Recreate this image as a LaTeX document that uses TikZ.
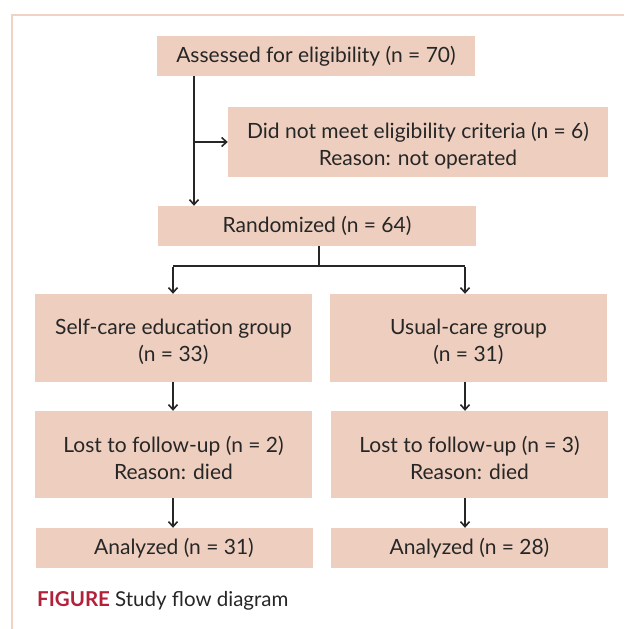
\documentclass[tikz,border=0pt]{standalone}
\usepackage{fontspec}
\setmainfont{Lato}
\usetikzlibrary{arrows.meta}
\definecolor{boxfill}{HTML}{EECFBF}
\definecolor{frameline}{HTML}{F0D3C6}
\definecolor{ink}{HTML}{262626}
\definecolor{figred}{HTML}{B3203A}
\tikzset{
  fbox/.style={fill=boxfill, draw=none, inner sep=0pt, align=center, text=ink,
    font=\fontsize{21}{27}\selectfont},
  boxtext/.style={inner sep=0pt, align=center, text=ink,
    font=\fontsize{21}{27}\selectfont, yshift=-3.5pt},
  conn/.style={draw=ink, line width=1.8pt},
  arr/.style={conn, -{Straight Barb[length=5pt,width=9pt,line width=1.6pt]}},
}
\begin{document}
\begin{tikzpicture}[x=1pt,y=-1pt]
\useasboundingbox (0,0) rectangle (624,629);
% frame
\draw[frameline, line width=2.5pt] (12,629) -- (12,15) -- (624,15);
% boxes
\node[fbox, minimum width=318, minimum height=40] (assess) at (316,56) {Assessed for eligibility (n = 70)};
\node[fbox, minimum width=380, minimum height=70,
  label={[boxtext]center:{Did not meet eligibility criteria (n = 6)\\Reason: not operated}}] (excl) at (418,142) {};
\node[fbox, minimum width=318, minimum height=40] (rand) at (317,226) {Randomized (n = 64)};
\node[fbox, minimum width=277, minimum height=88,
  label={[boxtext]center:{Self-care education group\\(n = 33)}}] (self) at (173.5,338) {};
\node[fbox, minimum width=277, minimum height=88,
  label={[boxtext]center:{Usual-care group\\(n = 31)}}] (usual) at (468.5,338) {};
\node[fbox, minimum width=277, minimum height=87,
  label={[boxtext]center:{Lost to follow-up (n = 2)\\Reason: died}}] (lost1) at (173.5,454.5) {};
\node[fbox, minimum width=277, minimum height=87,
  label={[boxtext]center:{Lost to follow-up (n = 3)\\Reason: died}}] (lost2) at (469.5,454.5) {};
\node[fbox, minimum width=277, minimum height=40] (an1) at (174,548) {Analyzed (n = 31)};
\node[fbox, minimum width=277, minimum height=40] (an2) at (469.5,548) {Analyzed (n = 28)};
% caption
\node[anchor=base west, inner sep=0pt, text=ink, font=\fontsize{20.5}{24}\selectfont] (cap) at (37,606)
  {\textcolor{figred}{\bfseries FIGURE} Study flow diagram};
% connectors
\coordinate (a1) at (194,76);
\coordinate (a2) at (194,142);
\coordinate (r1) at (319,246);
\coordinate (r2) at (319,266);
\coordinate (bl) at (173,266);
\coordinate (br) at (465,266);
\draw[arr] (a1) -- (a1 |- rand.north);
\draw[arr] (a2) -- (excl.west);
\draw[conn] (r1) -- (r2);
\draw[conn] (bl) -- (br);
\draw[arr] ([yshift=-0.9pt]bl) -- (bl |- self.north);
\draw[arr] ([yshift=-0.9pt]br) -- (br |- usual.north);
\draw[arr] (bl |- self.south) -- (bl |- lost1.north);
\draw[arr] (br |- usual.south) -- (br |- lost2.north);
\draw[arr] (bl |- lost1.south) -- (bl |- an1.north);
\draw[arr] (br |- lost2.south) -- (br |- an2.north);
\end{tikzpicture}
\end{document}
